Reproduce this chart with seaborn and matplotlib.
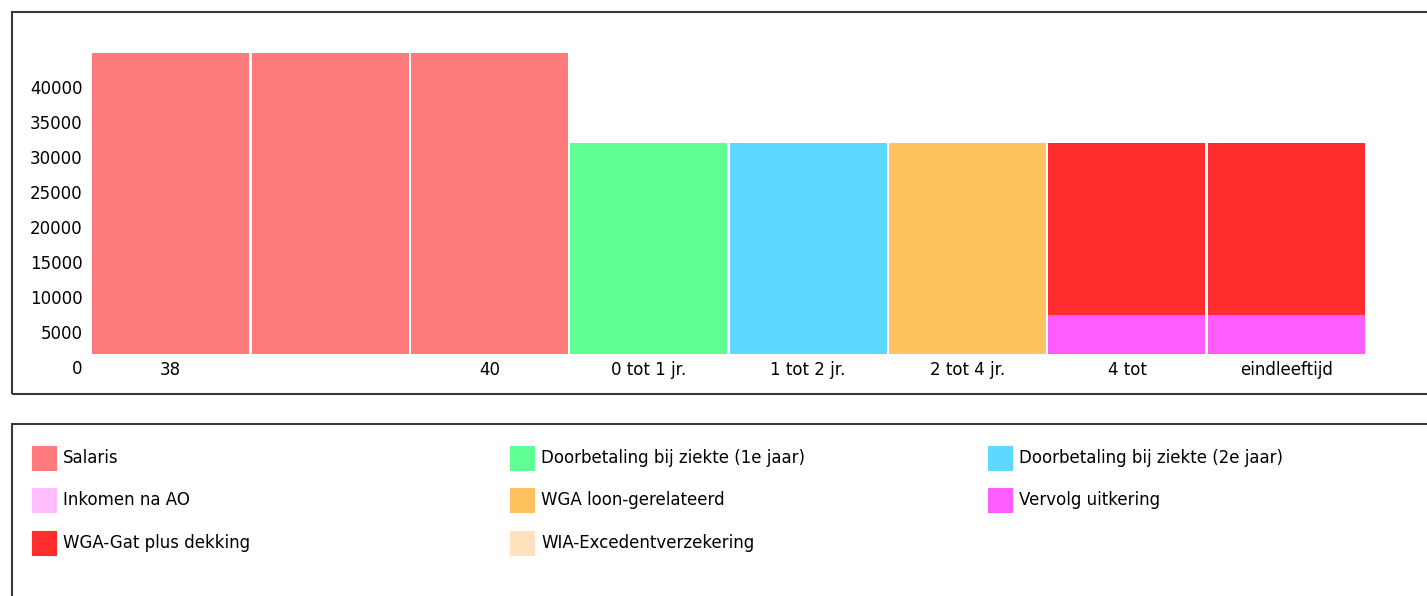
import pandas as pd
import matplotlib.pyplot as plt
from matplotlib.patches import Rectangle
from matplotlib.transforms import ScaledTranslation
import seaborn as sns

# Periods on the x axis (keys) and the labels shown under them
periods = ["38", "39", "40", "0 tot 1 jr.", "1 tot 2 jr.", "2 tot 4 jr.", "4 tot", "eindleeftijd"]
tick_labels = ["38", "", "40", "0 tot 1 jr.", "1 tot 2 jr.", "2 tot 4 jr.", "4 tot", "eindleeftijd"]

# Segment values per series
salaris = [43000, 43000, 43000, 0, 0, 0, 0, 0]
doorbetaling_1e = [0, 0, 0, 30100, 0, 0, 0, 0]
doorbetaling_2e = [0, 0, 0, 0, 30100, 0, 0, 0]
inkomen_na_ao = [0, 0, 0, 0, 0, 0, 0, 0]
wga_loon = [0, 0, 0, 0, 0, 30100, 0, 0]
vervolg = [0, 0, 0, 0, 0, 0, 5600, 5600]
wga_gat = [0, 0, 0, 0, 0, 0, 24500, 24500]
wia_excedent = [0, 0, 0, 0, 0, 0, 0, 0]

series_names = ["Salaris", "Doorbetaling bij ziekte (1e jaar)", "Doorbetaling bij ziekte (2e jaar)",
                "Inkomen na AO", "WGA loon-gerelateerd", "Vervolg uitkering",
                "WGA-Gat plus dekking", "WIA-Excedentverzekering"]
series_values = [salaris, doorbetaling_1e, doorbetaling_2e, inkomen_na_ao, wga_loon, vervolg,
                 wga_gat, wia_excedent]
colors = ["#FF7B7B", "#5FFF96", "#5DD9FF", "#FFBFFF", "#FFC25F", "#FF5CFF", "#FF2D2D", "#FFE0BF"]

# stacking order from bottom to top
stack_order = ["Salaris", "Doorbetaling bij ziekte (1e jaar)", "Doorbetaling bij ziekte (2e jaar)",
               "WGA loon-gerelateerd", "Vervolg uitkering", "WGA-Gat plus dekking",
               "Inkomen na AO", "WIA-Excedentverzekering"]

# build long table with cumulative tops
rows = []
bottoms = [0] * len(periods)
values_by_name = dict(zip(series_names, series_values))
for name in stack_order:
    vals = values_by_name[name]
    for i, p in enumerate(periods):
        top = bottoms[i] + vals[i] if vals[i] > 0 else 0
        rows.append({"period": p, "series": name, "top": top})
        bottoms[i] += vals[i]
df = pd.DataFrame(rows)

palette = dict(zip(series_names, colors))

sns.set_style("white")
plt.rcParams['font.family'] = ['DejaVu Sans']
plt.rcParams['text.color'] = 'black'
plt.rcParams['xtick.color'] = 'black'
plt.rcParams['ytick.color'] = 'black'

W, H = 1427, 596
fig = plt.figure(figsize=(W / 100, H / 100), dpi=100)


def px(x, y):
    return x / W, 1 - y / H


# panel boxes
fig.patches.append(Rectangle(px(12, 394), (1440 - 12) / W, (394 - 12) / H, transform=fig.transFigure,
                             fill=False, edgecolor="#3a3a3a", linewidth=1.5))
fig.patches.append(Rectangle(px(12, 610), (1440 - 12) / W, (610 - 424) / H, transform=fig.transFigure,
                             fill=False, edgecolor="#3a3a3a", linewidth=1.5))

ax_left, ax_right = 91, 1366
ax_bottom, ax_top = 354, 39
ax = fig.add_axes([ax_left / W, 1 - ax_bottom / H, (ax_right - ax_left) / W, (ax_bottom - ax_top) / H])

# draw from top layer to bottom so lower segments sit in front
sns.barplot(data=df, x="period", y="top", hue="series", order=periods,
            hue_order=stack_order[::-1], palette=palette, dodge=False, width=0.985,
            saturation=1, legend=False, linewidth=0, ax=ax)

ax.set_xlim(-0.5, len(periods) - 0.5)
ax.set_ylim(0, 45000)
ax.set_yticks(range(0, 45000, 5000))
ax.set_yticklabels([str(v) for v in range(0, 45000, 5000)], fontsize=12, color="black")
ax.set_xticks(range(len(periods)))
ax.set_xticklabels(tick_labels, fontsize=12, color="black")
ax.set_xlabel("")
ax.set_ylabel("")
ax.tick_params(axis="both", length=0)
ax.tick_params(axis="y", pad=6)
ax.tick_params(axis="x", pad=5)
for s in ax.spines.values():
    s.set_visible(False)

# y labels sit a bit below their ticks in the original
offset = ScaledTranslation(0, -13 / 100, fig.dpi_scale_trans)
for lab in ax.get_yticklabels():
    lab.set_transform(lab.get_transform() + offset)

# legend, laid out in three columns row by row
col_x = [32, 510, 988]
row_y = [458, 500, 543]
for i, (name, col) in enumerate(zip(series_names, colors)):
    x = col_x[i % 3]
    y = row_y[i // 3]
    fig.patches.append(Rectangle(px(x, y + 12), 24 / W, 24 / H, transform=fig.transFigure,
                                 facecolor=col, edgecolor=col, linewidth=0.8))
    fig.text(*px(x + 31, y), name, fontsize=12, va="center", ha="left", color="black")

fig.savefig("out.png", dpi=100)
